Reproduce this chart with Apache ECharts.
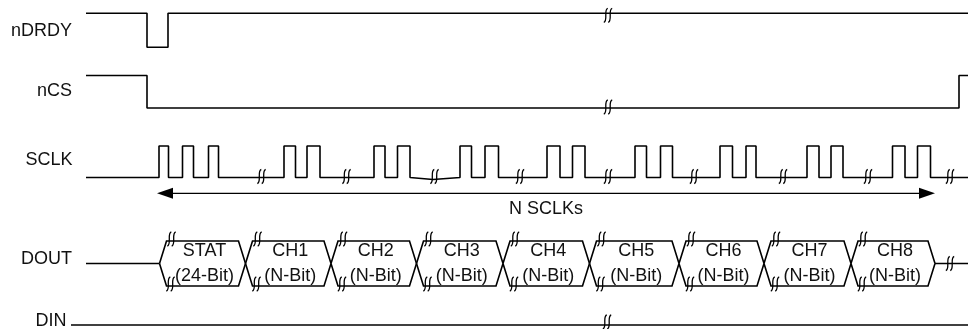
<!DOCTYPE html>
<html><head><meta charset="utf-8">
<script src="https://cdn.jsdelivr.net/npm/echarts@6/dist/echarts.min.js"></script>
<style>html,body{margin:0;padding:0;background:#fff}#c{width:968px;height:329px}</style>
</head><body><div id="c"></div>
<script>
// ---- data (time axis in diagram units) ----
const signalNames = ['nDRDY', 'nCS', 'SCLK', 'DOUT', 'DIN'];
const traceStart = 86, traceEnd = 968, dinStart = 71;
const ndrdyEdges = [147, 168];          // falling, rising
const ncsEdges = [147, 959];            // falling, rising
const sclkPulses = [[159,168.5],[182.5,193.5],[208.5,218.5],[284,295.5],[307,320],[374,385],[397.5,410],
  [460,471.5],[485,498.5],[547,560],[572.5,585],[635,646.5],[660.5,672.5],[720,732.5],[746,756],
  [807,819],[831,843],[892.5,905],[917.5,930.5]];
const sclkBreaks = [261.5, 346.5, 434.5, 520, 608, 694, 783, 868, 950];
const sclkSlant = [410, 433];           // low level sags before this break
const doutBounds = [159.5, 245.5, 331, 416.5, 503, 589.5, 679, 764, 851, 935];
const doutNames = ['STAT', 'CH1', 'CH2', 'CH3', 'CH4', 'CH5', 'CH6', 'CH7', 'CH8'];
const doutBits = ['(24-Bit)', '(N-Bit)', '(N-Bit)', '(N-Bit)', '(N-Bit)', '(N-Bit)', '(N-Bit)', '(N-Bit)', '(N-Bit)'];
const singleBreaks = { nDRDY: 608, nCS: 608, DIN: 607, DOUT: 950 };
const arrowSpan = [157, 935];
const arrowText = 'N SCLKs';

// ---- layout (levels on the inverted y axis) ----
const ROW = {
  nDRDY: { hi: 13.3, lo: 47.3, label: 31, lx: 72 },
  nCS: { hi: 75.5, lo: 108, label: 91, lx: 72 },
  SCLK: { hi: 146, lo: 177.5, label: 160.5, lx: 72.5 },
  DOUT: { top: 241, bot: 286, mid: 263.5, label: 259.5, lx: 72 },
  DIN: { y: 325, label: 321.5, lx: 66.5 }
};
const ARROW_Y = 193.3, ARROW_TEXT_Y = 209.5;
const FONT = '18px "Liberation Sans", Arial, sans-serif';
const INK = '#000';

// waveforms
const ndrdyData = [[traceStart, ROW.nDRDY.hi], [ndrdyEdges[0], ROW.nDRDY.hi], [ndrdyEdges[0], ROW.nDRDY.lo],
  [ndrdyEdges[1], ROW.nDRDY.lo], [ndrdyEdges[1], ROW.nDRDY.hi], [traceEnd, ROW.nDRDY.hi]];
const ncsData = [[traceStart, ROW.nCS.hi], [ncsEdges[0], ROW.nCS.hi], [ncsEdges[0], ROW.nCS.lo],
  [ncsEdges[1], ROW.nCS.lo], [ncsEdges[1], ROW.nCS.hi], [traceEnd, ROW.nCS.hi]];
const sclkData = [[traceStart, ROW.SCLK.lo]];
sclkPulses.forEach(p => {
  sclkData.push([p[0], ROW.SCLK.lo], [p[0], ROW.SCLK.hi], [p[1], ROW.SCLK.hi], [p[1], ROW.SCLK.lo]);
  if (p[1] === sclkSlant[0]) { sclkData.push([sclkSlant[1], ROW.SCLK.lo + 2], [sclkSlant[1] + 2, ROW.SCLK.lo]); }
});
sclkData.push([traceEnd, ROW.SCLK.lo]);
const dinData = [[dinStart, ROW.DIN.y], [traceEnd, ROW.DIN.y]];

// break marks
const breakData = [];
breakData.push([singleBreaks.nDRDY, ROW.nDRDY.hi + 2]);
breakData.push([singleBreaks.nCS, ROW.nCS.lo - 1]);
sclkBreaks.forEach(x => breakData.push([x, ROW.SCLK.lo - 1]));
breakData.push([singleBreaks.DIN, ROW.DIN.y - 3]);
breakData.push([singleBreaks.DOUT, ROW.DOUT.mid]);
for (let i = 0; i < doutNames.length; i++) {
  breakData.push([doutBounds[i] + 12, ROW.DOUT.top - 2]);
  breakData.push([doutBounds[i] + 11, ROW.DOUT.bot - 2]);
}

// labels
const labelItems = [];
signalNames.forEach(n => labelItems.push([ROW[n].lx, ROW[n].label, n, 'right']));
for (let i = 0; i < doutNames.length; i++) {
  const cx = (doutBounds[i] + doutBounds[i + 1]) / 2 + 2;
  labelItems.push([cx, 251.5, doutNames[i], 'center']);
  labelItems.push([cx, 276.5, doutBits[i], 'center']);
}
labelItems.push([(arrowSpan[0] + arrowSpan[1]) / 2, ARROW_TEXT_Y, arrowText, 'center']);

function lineSeries(data) {
  return { type: 'line', data, showSymbol: false, symbol: 'none', silent: true, clip: false,
    lineStyle: { color: INK, width: 1.6 }, animation: false };
}

const chart = echarts.init(document.getElementById('c'), null, { renderer: 'canvas' });
chart.setOption({
  animation: false,
  backgroundColor: '#fff',
  grid: { left: 0, right: 0, top: 0, bottom: 0, containLabel: false },
  xAxis: { type: 'value', min: 0, max: 968, show: false },
  yAxis: { type: 'value', min: 0, max: 329, inverse: true, show: false },
  series: [
    lineSeries(ndrdyData),
    lineSeries(ncsData),
    lineSeries(sclkData),
    lineSeries(dinData),
    { // DOUT bus
      type: 'custom', silent: true, clip: false, data: [0],
      renderItem: function (params, api) {
        const s = 7;
        const P = (x, y) => api.coord([x, y]);
        const children = [];
        const add = pts => children.push({ type: 'polyline', shape: { points: pts },
          style: { stroke: INK, lineWidth: 1.6, fill: null } });
        add([P(traceStart, ROW.DOUT.mid), P(doutBounds[0], ROW.DOUT.mid)]);
        for (let i = 0; i < doutBounds.length - 1; i++) {
          const a = doutBounds[i], b = doutBounds[i + 1];
          add([P(a, ROW.DOUT.mid), P(a + s, ROW.DOUT.top), P(b - s, ROW.DOUT.top), P(b, ROW.DOUT.mid)]);
          add([P(a, ROW.DOUT.mid), P(a + s, ROW.DOUT.bot), P(b - s, ROW.DOUT.bot), P(b, ROW.DOUT.mid)]);
        }
        add([P(doutBounds[doutBounds.length - 1], ROW.DOUT.mid), P(traceEnd, ROW.DOUT.mid)]);
        return { type: 'group', children };
      }
    },
    { // arrow
      type: 'custom', silent: true, clip: false, data: [0],
      renderItem: function (params, api) {
        const a = api.coord([arrowSpan[0], ARROW_Y]);
        const b = api.coord([arrowSpan[1], ARROW_Y]);
        const L = 16, W = 5.5;
        return { type: 'group', children: [
          { type: 'line', shape: { x1: a[0] + 4, y1: a[1], x2: b[0] - 4, y2: b[1] }, style: { stroke: INK, lineWidth: 1.3 } },
          { type: 'polygon', shape: { points: [[a[0], a[1]], [a[0] + L, a[1] - W], [a[0] + L, a[1] + W]] }, style: { fill: INK } },
          { type: 'polygon', shape: { points: [[b[0], b[1]], [b[0] - L, b[1] - W], [b[0] - L, b[1] + W]] }, style: { fill: INK } }
        ] };
      }
    },
    { // break marks
      type: 'custom', silent: true, clip: false, data: breakData,
      renderItem: function (params, api) {
        const d = breakData[params.dataIndex];
        const p = api.coord(d);
        const children = [-2.2, 2.2].map(o => ({ type: 'bezierCurve',
          shape: { x1: p[0] + o + 2, y1: p[1] - 7, cpx1: p[0] + o - 2.5, cpy1: p[1] - 6,
                   cpx2: p[0] + o + 2.5, cpy2: p[1] + 6, x2: p[0] + o - 2, y2: p[1] + 7 },
          style: { stroke: INK, lineWidth: 1.3, fill: null } }));
        return { type: 'group', children };
      }
    },
    { // text
      type: 'custom', silent: true, clip: false, data: labelItems.map((_, i) => i),
      renderItem: function (params, api) {
        const it = labelItems[params.dataIndex];
        const p = api.coord([it[0], it[1]]);
        return { type: 'text', style: { x: p[0], y: p[1], text: it[2], fill: '#111', font: FONT,
          align: it[3], verticalAlign: 'middle' } };
      }
    }
  ]
});
</script></body></html>
